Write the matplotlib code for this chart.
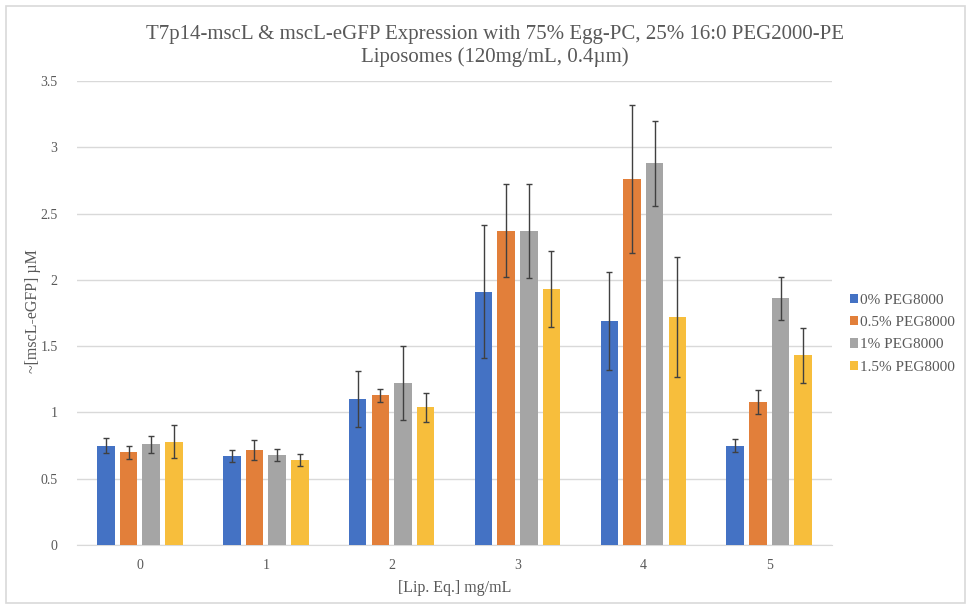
import numpy as np
from matplotlib import pyplot as plt
from matplotlib.patches import Rectangle

# data
groups = ['0', '1', '2', '3', '4', '5']
series = ['0% PEG8000', '0.5% PEG8000', '1% PEG8000', '1.5% PEG8000']
colors = ['#4472c4', '#e27f3a', '#a5a5a5', '#f7be3c']

peg0 = [0.75, 0.67, 1.10, 1.91, 1.69, 0.75]
peg05 = [0.70, 0.72, 1.13, 2.37, 2.76, 1.08]
peg1 = [0.76, 0.68, 1.22, 2.37, 2.88, 1.86]
peg15 = [0.78, 0.64, 1.04, 1.93, 1.72, 1.43]

err0 = [0.055, 0.045, 0.21, 0.50, 0.37, 0.05]
err05 = [0.05, 0.075, 0.05, 0.35, 0.56, 0.09]
err1 = [0.065, 0.045, 0.28, 0.355, 0.32, 0.16]
err15 = [0.125, 0.045, 0.11, 0.285, 0.45, 0.205]

values = [peg0, peg05, peg1, peg15]
errors = [err0, err05, err1, err15]

plt.rcParams['font.family'] = ['Liberation Serif', 'DejaVu Serif']

fig = plt.figure(figsize=(9.71, 6.07), dpi=100)
fig.patches.append(Rectangle((0.006, 0.006), 0.988, 0.984, transform=fig.transFigure,
                             fill=False, edgecolor='#d9d9d9', linewidth=1.2))
ax = fig.add_axes([0.0793, 0.1021, 0.7777, 0.7645])

x = np.arange(len(groups))
width = 0.14
pitch = 0.18
for i in range(4):
    pos = x + (i - 1.5) * pitch
    ax.bar(pos, values[i], width, color=colors[i], label=series[i], zorder=3)
    ax.errorbar(pos, values[i], yerr=errors[i], fmt='none', ecolor='#404040',
                elinewidth=1, capsize=2.5, capthick=1, zorder=4)

ax.set_xlim(-0.5, 5.5)
ax.set_ylim(0, 3.5)
ax.set_yticks(np.arange(0, 3.51, 0.5))
ax.set_yticklabels(['0', '0.5', '1', '1.5', '2', '2.5', '3', '3.5'])
ax.set_xticks(x)
ax.set_xticklabels(groups)
ax.grid(axis='y', color='#d9d9d9', linewidth=1, zorder=0)
for s in ['top', 'right', 'left']:
    ax.spines[s].set_visible(False)
ax.spines['bottom'].set_color('#d9d9d9')
ax.tick_params(axis='both', length=0, colors='#595959', labelsize=10)
ax.tick_params(axis='y', pad=14)
ax.tick_params(axis='x', pad=10)

ax.set_xlabel('[Lip. Eq.] mg/mL', color='#595959', fontsize=11.5, labelpad=6)
ax.set_ylabel('~[mscL-eGFP] µM', color='#595959', fontsize=11.5)
ax.yaxis.set_label_coords(-0.048, 0.505)
ax.set_title('T7p14-mscL & mscL-eGFP Expression with 75% Egg-PC, 25% 16:0 PEG2000-PE\nLiposomes (120mg/mL, 0.4µm)',
             color='#595959', fontsize=15, pad=14, x=0.553, linespacing=1.2)

leg = ax.legend(loc='center left', bbox_to_anchor=(1.015, 0.455), frameon=False,
                fontsize=11, handlelength=0.55, handleheight=0.55, handletextpad=0.15,
                labelspacing=0.6, labelcolor='#595959', borderaxespad=0)

fig.savefig('out.png', dpi=100)
